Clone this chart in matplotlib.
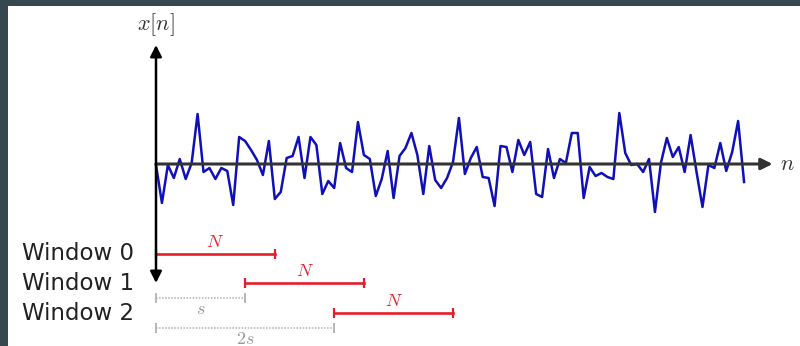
import numpy as np
import matplotlib.pyplot as plt
from matplotlib.patches import Rectangle
import matplotlib.transforms as mtransforms

plt.rcParams['mathtext.fontset'] = 'cm'

# signal samples x[n], n = 0..99
signal = [-0.1, -3.9, -0.1, -1.4, 0.5, -1.5, 0.1, 5.0, -0.8, -0.4,
          -1.5, -0.4, -0.7, -4.1, 2.7, 2.3, 1.4, 0.4, -1.1, 2.3,
          -3.5, -2.8, 0.6, 0.8, 2.7, -1.4, 2.7, 1.9, -3.0, -1.7,
          -2.4, 2.1, -0.4, -0.8, 4.2, 0.9, 0.5, -3.2, -1.5, 1.3,
          -3.4, 0.8, 1.6, 3.1, 0.9, -3.0, 1.8, -1.6, -2.4, -1.4,
          0.2, 4.6, -1.0, 0.6, 1.7, -1.3, -1.4, -4.2, 1.8, 1.7,
          -0.8, 2.4, 0.9, 2.2, -3.0, -3.3, 1.5, -1.4, 0.5, 0.1,
          3.1, 3.1, -3.4, -0.3, -1.2, -0.9, -1.3, -1.5, 5.1, 1.1,
          -0.1, 0.0, -0.8, 0.5, -4.8, 0.1, 2.6, 0.7, 1.7, -0.8,
          2.9, -0.8, -4.3, -0.1, -0.4, 2.1, -0.7, 1.2, 4.3, -1.8]

N = 20          # window length
s = 15          # hop size
windows = ["Window 0", "Window 1", "Window 2"]
row_y = [-9.0, -11.9, -14.9]     # vertical position of each window bar
dim_y = [-13.4, -16.4]           # s and 2s dimension lines
dim_labels = [r'$s$', r'$2s$']

fig = plt.figure(figsize=(8, 3.46), dpi=100)
fig.patch.set_facecolor('#37474f')

ax = fig.add_axes([0, 0, 1, 1])
ax.patch.set_alpha(0)
ax.set_xlim(-156 / 5.94, 644 / 5.94)
ax.set_ylim(-18.2, 16.4)
ax.axis('off')

# white page inside the dark frame
ax.add_patch(Rectangle((8 / 800, 0), 1, 340 / 346, transform=fig.transFigure,
                       facecolor='white', edgecolor='none', zorder=-10))

n = np.arange(len(signal))
ax.plot(n, signal, color='#1010b8', lw=1.8, zorder=3)

# axes with arrows
ax.annotate('', xy=(103.8, 0), xytext=(0, 0),
            arrowprops=dict(arrowstyle='-|>', color='#333333', lw=2.2,
                            mutation_scale=17, shrinkA=0, shrinkB=0), zorder=4)
ax.annotate('', xy=(0, 11.9), xytext=(0, -11.9),
            arrowprops=dict(arrowstyle='<|-|>', color='black', lw=1.8,
                            mutation_scale=17, shrinkA=0, shrinkB=0), zorder=5)
ax.text(0, 13.9, r'$x[n]$', ha='center', va='center', fontsize=16, color='#333333')
ax.text(105.0, 0, r'$n$', ha='left', va='center', fontsize=16, color='#333333')

# window bars
lab_tf = mtransforms.blended_transform_factory(ax.transAxes, ax.transData)
for k, (name, y) in enumerate(zip(windows, row_y)):
    start = k * s
    ax.plot([start, start + N], [y, y], color='#e41f2d', lw=1.9,
            marker='|', ms=7, mew=1.6, zorder=4)
    ax.text(start + N / 2, y + 1.2, r'$N$', ha='center', va='center',
            fontsize=13, color='#e41f2d')
    ax.text(22 / 800, y, name, transform=lab_tf, ha='left', va='center',
            fontsize=16.5, color='#222222')

# hop dimension lines
for k, (y, lab) in enumerate(zip(dim_y, dim_labels)):
    end = (k + 1) * s
    ax.plot([0, end], [y, y], color='#b0b0b0', lw=1.1, ls=(0, (1, 1)),
            zorder=2)
    ax.plot([0, end], [y, y], ls='none', marker='|', ms=7, mew=1.3,
            color='#b0b0b0', zorder=2)
    ax.text(end / 2, y - 1.1, lab, ha='center', va='center', fontsize=13,
            color='#999999')

plt.savefig('out.png', dpi=100, facecolor=fig.get_facecolor())
